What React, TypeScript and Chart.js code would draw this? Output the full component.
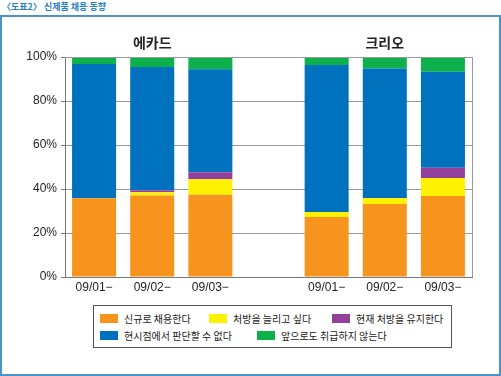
import React, { useEffect, useRef } from "react";
import { Chart, registerables } from "chart.js";

Chart.register(...registerables);

const categories = ["09/01−", "09/02−", "09/03−", "", "09/01−", "09/02−", "09/03−"];
const groupTitles = ["에카드", "크리오"];
const groupTitleIndex = [1, 5];
const yTicks = [0, 20, 40, 60, 80, 100];

const seriesNames = [
  "신규로 채용한다",
  "처방을 늘리고 싶다",
  "현재 처방을 유지한다",
  "현시점에서 판단할 수 없다",
  "앞으로도 취급하지 않는다",
];
const seriesColors = ["#F7941D", "#FFF200", "#92409A", "#0071BC", "#0DB04B"];

const newAdopt = [35.8, 37.1, 37.4, null, 27.3, 33.2, 36.8];
const increase = [0, 1.4, 7.0, null, 2.2, 2.7, 8.2];
const maintain = [0, 0.9, 3.2, null, 0, 0, 4.7];
const undecided = [61.0, 56.1, 46.8, null, 66.9, 58.9, 43.6];
const never = [3.2, 4.5, 5.6, null, 3.6, 5.1, 6.7];

const seriesValues = [newAdopt, increase, maintain, undecided, never];

const FONT = "'Liberation Sans', Arial, sans-serif";
const KFONT = "'Noto Sans CJK KR', 'Noto Sans', sans-serif";

const framePlugin = {
  id: "framePlugin",
  afterDatasetsDraw(chart: any) {
    const { ctx, chartArea } = chart;
    ctx.save();
    ctx.strokeStyle = "#9a9a9a";
    ctx.lineWidth = 1;
    ctx.beginPath();
    ctx.moveTo(chartArea.left, chartArea.top + 0.5);
    ctx.lineTo(chartArea.right + 0.5, chartArea.top + 0.5);
    ctx.lineTo(chartArea.right + 0.5, chartArea.bottom);
    ctx.stroke();
    ctx.restore();
  },
  afterDraw(chart: any) {
    const { ctx } = chart;
    const xs = chart.scales.x;
    ctx.save();
    ctx.fillStyle = "#222";
    ctx.font = `bold 14px ${KFONT}`;
    ctx.textAlign = "center";
    ctx.textBaseline = "middle";
    groupTitles.forEach((t, i) => {
      ctx.fillText(t, xs.getPixelForValue(groupTitleIndex[i]), 43);
    });
    ctx.restore();
  },
};

export default function App() {
  const ref = useRef<HTMLCanvasElement>(null);

  useEffect(() => {
    document.body.style.margin = "0";
    const chart = new Chart(ref.current as HTMLCanvasElement, {
      type: "bar",
      data: {
        labels: categories,
        datasets: seriesNames.map((name, i) => ({
          label: name,
          data: seriesValues[i],
          backgroundColor: seriesColors[i],
          borderWidth: 0,
          barPercentage: 0.757,
          categoryPercentage: 1,
        })),
      },
      options: {
        responsive: false,
        animation: false,
        events: [],
        layout: { padding: { left: 25, right: 29, top: 57, bottom: 3 } },
        plugins: {
          legend: { display: false },
          tooltip: { enabled: false },
          title: { display: false },
        },
        scales: {
          x: {
            stacked: true,
            grid: { display: false, drawTicks: false },
            border: { display: true, color: "#777", width: 1 },
            ticks: {
              color: "#222",
              font: { family: FONT, size: 12 },
              padding: 3,
              maxRotation: 0,
              autoSkip: false,
            },
            afterFit: (s: any) => {
              s.height = 20;
            },
          },
          y: {
            stacked: true,
            min: 0,
            max: 100,
            afterBuildTicks: (s: any) => {
              s.ticks = yTicks.map((v) => ({ value: v }));
            },
            grid: {
              color: (c: any) => (c.tick && (c.tick.value === 0 || c.tick.value === 100) ? "rgba(0,0,0,0)" : "#999"),
              borderDash: [3, 3],
              tickColor: "#777",
              tickLength: 4,
              tickBorderDash: [],
              drawTicks: true,
            },
            border: { display: true, color: "#777", width: 1, dash: [] },
            ticks: {
              color: "#222",
              font: { family: FONT, size: 12 },
              padding: 4,
              callback: (v: any) => `${v}%`,
            },
            afterFit: (s: any) => {
              s.width = 40;
            },
          },
        },
      },
      plugins: [framePlugin],
    } as any);
    return () => chart.destroy();
  }, []);

  const legendRows = [
    [
      { i: 0, left: 100 },
      { i: 1, left: 209 },
      { i: 2, left: 332 },
    ],
    [
      { i: 3, left: 100 },
      { i: 4, left: 257 },
    ],
  ];
  const rowTops = [314, 331];

  return (
    <div style={{ position: "fixed", left: 0, top: 0, width: 501, height: 376, background: "#fff", overflow: "hidden" }}>
      <div
        style={{
          position: "absolute",
          left: 2,
          top: 1,
          fontFamily: KFONT,
          fontWeight: "bold",
          fontSize: 9,
          color: "#2a7fc0",
          whiteSpace: "nowrap",
          lineHeight: "12px",
        }}
      >
        〈도표2〉 신제품 채용 동향
      </div>
      <div
        style={{
          position: "absolute",
          left: 0,
          top: 15,
          width: 501,
          height: 361,
          boxSizing: "border-box",
          border: "2px solid #4a93c8",
        }}
      />
      <canvas ref={ref} width={501} height={300} style={{ position: "absolute", left: 0, top: 0, width: 501, height: 300 }} />
      <div
        style={{
          position: "absolute",
          left: 93,
          top: 305,
          width: 359,
          height: 43,
          boxSizing: "border-box",
          border: "1px solid #555",
        }}
      />
      {legendRows.map((row, r) =>
        row.map((it) => (
          <div
            key={`${r}-${it.i}`}
            style={{
              position: "absolute",
              left: it.left,
              top: rowTops[r] - 3,
              height: 15,
              display: "flex",
              alignItems: "center",
              whiteSpace: "nowrap",
              fontFamily: KFONT,
              fontSize: 10,
              color: "#222",
            }}
          >
            <span style={{ display: "inline-block", width: 18, height: 9, background: seriesColors[it.i], marginRight: 6 }} />
            <span>{seriesNames[it.i]}</span>
          </div>
        ))
      )}
    </div>
  );
}
